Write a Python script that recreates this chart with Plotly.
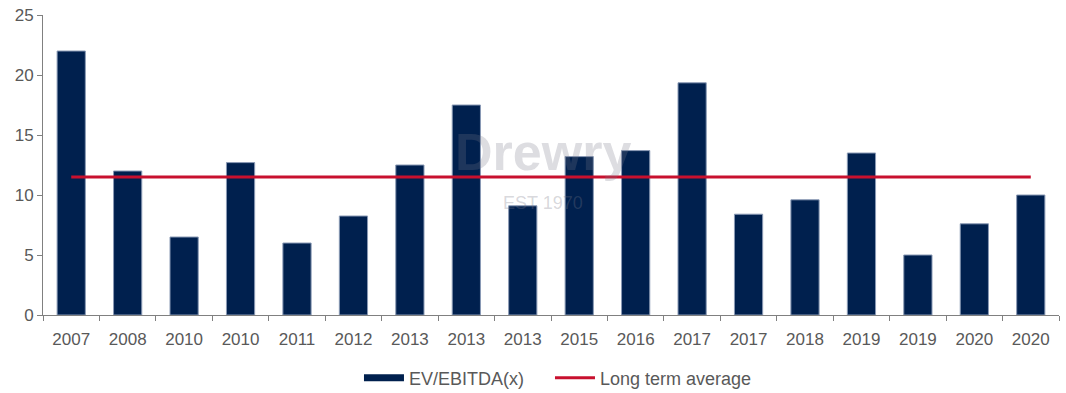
import plotly.graph_objects as go

years = ["2007", "2008", "2010", "2010", "2011", "2012", "2013", "2013", "2013",
         "2015", "2016", "2017", "2017", "2018", "2019", "2019", "2020", "2020"]
ev_ebitda = [22.0, 12.0, 6.5, 12.7, 6.0, 8.25, 12.5, 17.5, 9.1,
             13.2, 13.7, 19.35, 8.4, 9.6, 13.5, 5.0, 7.6, 10.0]
long_term_avg = [11.5] * len(years)

pos = list(range(len(years)))
grey = "#595959"
navy = "#00204E"

fig = go.Figure()
fig.add_trace(go.Bar(
    x=pos, y=ev_ebitda, name="EV/EBITDA(x)", showlegend=False,
    marker=dict(color=navy, line=dict(color="#8A9AB5", width=1)),
    width=0.5,
))
# legend entry drawn as a wide rectangle like the reference
fig.add_trace(go.Scatter(
    x=[None], y=[None], name="EV/EBITDA(x)", mode="lines",
    line=dict(color=navy, width=7), legend="legend",
))
fig.add_trace(go.Scatter(
    x=pos, y=long_term_avg, name="Long term average", mode="lines",
    line=dict(color="#C8102E", width=3), legend="legend2",
))

fig.add_annotation(x=8.36, y=13.6, text="<b>Drewry</b>", showarrow=False,
                   font=dict(size=52, color="rgba(120,120,135,0.25)", family="Liberation Sans"))
fig.add_annotation(x=8.36, y=9.3, text="EST 1970", showarrow=False,
                   font=dict(size=18, color="rgba(120,120,135,0.3)", family="Liberation Sans"))

leg_common = dict(orientation="h", y=-0.21, yanchor="middle", xanchor="left",
                  font=dict(size=18, color=grey), itemwidth=40, bgcolor="rgba(0,0,0,0)")

fig.update_layout(
    width=1066, height=393,
    margin=dict(l=43, r=7, t=15, b=78, autoexpand=False),
    plot_bgcolor="white", paper_bgcolor="white",
    font=dict(family="Liberation Sans, Arial, sans-serif", size=17, color=grey),
    showlegend=True,
    legend=dict(x=0.311, **leg_common),
    legend2=dict(x=0.499, **leg_common),
    xaxis=dict(
        range=[-0.5, 17.5], tickmode="array", tickvals=pos, ticktext=years,
        automargin=False,
        showline=True, linecolor="#808080", linewidth=1, showgrid=False, zeroline=False,
        ticks="outside", ticklen=9, tickcolor="rgba(0,0,0,0)",
        minor=dict(tickmode="array", tickvals=[p - 0.5 for p in pos] + [17.5],
                   ticks="outside", ticklen=5, tickcolor="#808080", showgrid=False),
    ),
    yaxis=dict(
        range=[0, 25], tickvals=[0, 5, 10, 15, 20, 25], automargin=False,
        showline=True, linecolor="#808080", linewidth=1, showgrid=False, zeroline=False,
        ticks="outside", ticklen=5, tickcolor="#808080",
    ),
)

# remove the browser's default 8px page margin so the figure fills the window
fig.write_html("out.html", config={"displayModeBar": False},
               post_script="document.body.style.margin='0';")
